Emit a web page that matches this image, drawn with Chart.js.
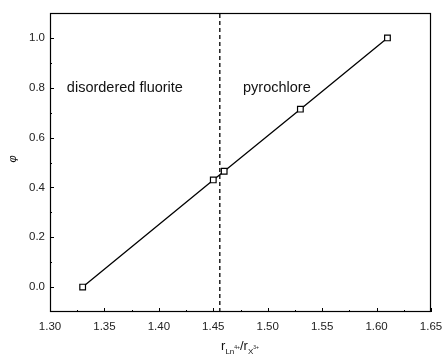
<!DOCTYPE html>
<html lang="en">
<head>
  <meta charset="UTF-8">
  <title>Order parameter vs radius ratio</title>
  <style>
    html, body { margin: 0; padding: 0; background: #ffffff; }
    #chartContainer { position: relative; width: 445px; height: 359px; }
  </style>
  <script src="https://cdn.jsdelivr.net/npm/chart.js"></script>
</head>
<body>
  <div id="chartContainer">
    <canvas id="chartCanvas"></canvas>
  </div>
  <script>
    // data
    const radiusRatio = [1.33, 1.45, 1.46, 1.53, 1.61];
    const phiValues = [0.0, 0.43, 0.465, 0.714, 1.0];
    const boundaryX = 1.456;
    const xTicks = [1.30, 1.35, 1.40, 1.45, 1.50, 1.55, 1.60, 1.65];
    const yTicks = [0.0, 0.2, 0.4, 0.6, 0.8, 1.0];
    const regionLabels = ['disordered fluorite', 'pyrochlore'];
    const regionLabelX = [1.3155, 1.4773];
    const regionLabelY = 0.8;

    const font = '"Liberation Sans", Arial, sans-serif';

    // frame, inward ticks, labels and axis titles
    const decorations = {
      id: 'decorations',
      afterDraw(c) {
        const ctx = c.ctx;
        const area = c.chartArea;
        const xs = c.scales.x, ys = c.scales.y;
        ctx.save();
        ctx.strokeStyle = '#000';
        ctx.lineWidth = 1.2;
        ctx.strokeRect(area.left + 0.5, area.top + 0.5, area.right - area.left - 1, area.bottom - area.top - 1);

        ctx.lineWidth = 1;
        ctx.beginPath();
        for (let i = 0; i < xTicks.length; i++) {
          const px = Math.round(xs.getPixelForValue(xTicks[i])) + 0.5;
          ctx.moveTo(px, area.bottom); ctx.lineTo(px, area.bottom - 4);
          if (i < xTicks.length - 1) {
            const mx = Math.round(xs.getPixelForValue((xTicks[i] + xTicks[i + 1]) / 2)) + 0.5;
            ctx.moveTo(mx, area.bottom); ctx.lineTo(mx, area.bottom - 2);
          }
        }
        for (let i = 0; i < yTicks.length; i++) {
          const py = Math.round(ys.getPixelForValue(yTicks[i])) + 0.5;
          ctx.moveTo(area.left, py); ctx.lineTo(area.left + 4, py);
          if (i < yTicks.length - 1) {
            const my = Math.round(ys.getPixelForValue((yTicks[i] + yTicks[i + 1]) / 2)) + 0.5;
            ctx.moveTo(area.left, my); ctx.lineTo(area.left + 2, my);
          }
        }
        ctx.stroke();

        // tick labels
        ctx.fillStyle = '#222';
        ctx.font = '11.5px ' + font;
        ctx.textAlign = 'center';
        ctx.textBaseline = 'top';
        xTicks.forEach(v => ctx.fillText(v.toFixed(2), xs.getPixelForValue(v), area.bottom + 9));
        ctx.textAlign = 'right';
        ctx.textBaseline = 'middle';
        yTicks.forEach(v => ctx.fillText(v.toFixed(1), area.left - 5, ys.getPixelForValue(v)));

        // region labels
        ctx.fillStyle = '#111';
        ctx.font = '14.5px ' + font;
        ctx.textAlign = 'left';
        regionLabels.forEach((t, i) => ctx.fillText(t, xs.getPixelForValue(regionLabelX[i]), ys.getPixelForValue(regionLabelY)));

        // y title
        ctx.save();
        ctx.translate(13, 159);
        ctx.rotate(-Math.PI / 2);
        ctx.textAlign = 'center';
        ctx.font = 'italic 11px ' + font;
        ctx.fillText('\u03C6', 0, 0);
        ctx.restore();

        // x title: r_{Ln4+}/r_{X3+}
        const parts = [
          ['r', 13, 0], ['Ln', 8, 4], ['4+', 5, -1], ['/r', 13, 0], ['X', 8, 4], ['3+', 5, -1]
        ];
        ctx.textAlign = 'left';
        ctx.textBaseline = 'alphabetic';
        let total = 0;
        parts.forEach(p => { ctx.font = p[1] + 'px ' + font; total += ctx.measureText(p[0]).width; });
        let x = 240 - total / 2;
        const base = 350;
        parts.forEach(p => {
          ctx.font = p[1] + 'px ' + font;
          ctx.fillText(p[0], x, base + p[2]);
          x += ctx.measureText(p[0]).width;
        });
        ctx.restore();
      }
    };

    const chart = new Chart(document.getElementById('chartCanvas'), {
      type: 'scatter',
      data: {
        datasets: [
          {
            data: radiusRatio.map((r, i) => ({ x: r, y: phiValues[i] })),
            showLine: true,
            borderColor: '#000',
            borderWidth: 1.3,
            pointStyle: 'rect',
            pointRadius: 4,
            pointBackgroundColor: '#fff',
            pointBorderColor: '#000',
            pointBorderWidth: 1.2
          },
          {
            data: [{ x: boundaryX, y: -0.1 }, { x: boundaryX, y: 1.1 }],
            showLine: true,
            borderColor: '#000',
            borderWidth: 1.3,
            borderDash: [4, 3],
            pointRadius: 0
          }
        ]
      },
      options: {
        responsive: true,
        maintainAspectRatio: false,
        animation: false,
        layout: { padding: { left: 0, right: 14, top: 13, bottom: 0 } },
        plugins: { legend: { display: false }, tooltip: { enabled: false } },
        scales: {
          x: {
            type: 'linear', min: 1.30, max: 1.65,
            grid: { display: false }, border: { display: false },
            ticks: { display: false },
            afterFit: s => { s.height = 47; }
          },
          y: {
            type: 'linear', min: -0.1, max: 1.1,
            grid: { display: false }, border: { display: false },
            ticks: { display: false },
            afterFit: s => { s.width = 50; }
          }
        }
      },
      plugins: [decorations]
    });
  </script>
</body>
</html>
